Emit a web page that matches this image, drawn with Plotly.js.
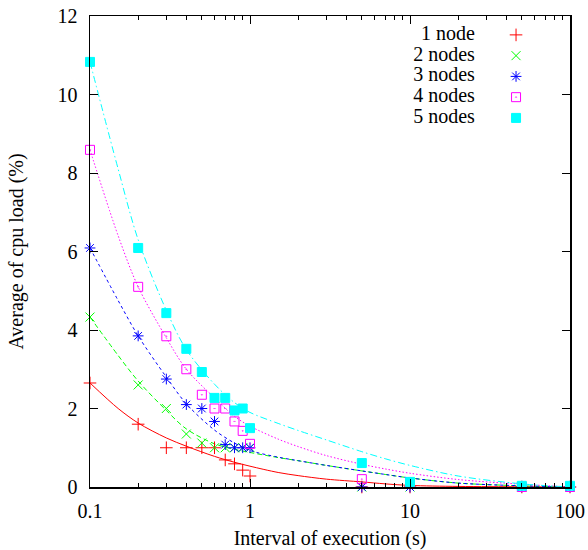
<!DOCTYPE html>
<html>
<head>
<meta charset="utf-8">
<script src="https://cdn.plot.ly/plotly-3.0.1.min.js"></script>
<style>
  html, body { margin: 0; padding: 0; background: #fff; }
  #chart { width: 588px; height: 550px; }
</style>
</head>
<body>
<div id="chart"></div>
<script>
// Measured points (interval of execution in s, average cpu load in %)
const intervals = [0.1, 0.2, 0.3, 0.4, 0.5, 0.6, 0.7, 0.8, 0.9, 1, 5, 10, 50, 100];
const load1 = [2.65, 1.6, 1.0, 1.0, 1.0, 1.0, 0.69, 0.59, 0.43, 0.28, 0, 0, 0, 0];
const load2 = [4.33, 2.6, 2.0, 1.35, 1.12, 1.0, 1.0, 1.0, 1.0, 1.0, 0, 0, 0, 0];
const load3 = [6.09, 3.85, 2.75, 2.1, 2.0, 1.67, 1.08, 1.0, 1.0, 1.0, 0, 0, 0, 0];
const load4 = [8.59, 5.1, 3.84, 3.0, 2.35, 2.0, 2.0, 1.67, 1.43, 1.1, 0.2, 0.1, 0, 0];
const load5 = [10.83, 6.09, 4.43, 3.52, 2.93, 2.27, 2.27, 1.95, 2.0, 1.5, 0.61, 0.13, 0.03, 0.03];

// Fitted curves at these intervals
const curveX = [0.1, 0.15, 0.2, 0.3, 0.4, 0.6, 0.8, 1, 1.5, 2, 3, 5, 7, 10, 20, 50, 100];
const fit1 = [2.65, 2.0, 1.63, 1.25, 1.04, 0.78, 0.63, 0.53, 0.37, 0.29, 0.2, 0.13, 0.08, 0.04, 0.015, 0.005, 0];
const fit2 = [4.33, 3.35, 2.7, 1.95, 1.48, 1.1, 0.96, 0.88, 0.75, 0.67, 0.55, 0.41, 0.32, 0.23, 0.1, 0.03, 0];
const fit3 = [6.09, 4.75, 3.85, 2.8, 2.12, 1.45, 1.12, 0.93, 0.76, 0.67, 0.55, 0.41, 0.32, 0.23, 0.1, 0.03, 0];
const fit4 = [8.59, 6.4, 5.1, 3.8, 3.0, 2.27, 1.8, 1.55, 1.22, 1.03, 0.8, 0.58, 0.46, 0.35, 0.19, 0.07, 0];
const fit5 = [10.83, 8.1, 6.3, 4.5, 3.5, 2.62, 2.15, 1.9, 1.62, 1.44, 1.2, 0.9, 0.72, 0.55, 0.28, 0.08, 0];

const seriesNames = ['1 node', '2 nodes', '3 nodes', '4 nodes', '5 nodes'];
const xTickVals = [0.1, 1, 10, 100];
const xTickText = ['0.1', '1', '10', '100'];
const xMinorVals = [0.2,0.3,0.4,0.5,0.6,0.7,0.8,0.9,2,3,4,5,6,7,8,9,20,30,40,50,60,70,80,90];

const colors = ['#ff0000', '#00ff00', '#0000ff', '#ff00ff', '#00ffff'];
const symbols = ['cross-thin-open', 'x-thin-open', 'asterisk-open', 'square-open-dot', 'square'];
const sizes = [9, 9, 9, 9, 9];
const dashes = ['solid', '5px,3px', '3px,3px', '1.5px,2px', '7px,3px,1.5px,3px'];
const loads = [load1, load2, load3, load4, load5];
const fits = [fit1, fit2, fit3, fit4, fit5];

const FONT = 'Liberation Serif, Times New Roman, serif';
const traces = [];
for (let i = 0; i < 5; i++) {
  traces.push({
    x: curveX, y: fits[i], type: 'scatter', mode: 'lines',
    line: {color: colors[i], width: 1, dash: dashes[i], shape: 'spline', smoothing: 0.9},
    showlegend: false, hoverinfo: 'skip'
  });
}
for (let i = 0; i < 5; i++) {
  traces.push({
    x: intervals, y: loads[i], type: 'scatter', mode: 'markers',
    marker: {color: colors[i], symbol: symbols[i], size: sizes[i],
             line: {color: colors[i], width: 1}},
    showlegend: false, cliponaxis: false
  });
}
// Legend block (gnuplot style: text, then symbol on the right)
const keySymX = [0.5, 0.5, 0.5, 0.5, 0.5];
const keyTextX = [0.355, 0.355, 0.355, 0.355, 0.355];
const keyY = [5, 4, 3, 2, 1];
for (let i = 0; i < 5; i++) {
  traces.push({
    x: [keySymX[i]], y: [keyY[i]], xaxis: 'x2', yaxis: 'y2', type: 'scatter', mode: 'markers',
    marker: {color: colors[i], symbol: symbols[i], size: sizes[i],
             line: {color: colors[i], width: 1}},
    showlegend: false, hoverinfo: 'skip'
  });
}
traces.push({
  x: keyTextX, y: keyY, xaxis: 'x2', yaxis: 'y2', type: 'scatter', mode: 'text',
  text: seriesNames, textposition: 'middle left',
  textfont: {family: FONT, size: 20, color: '#000'},
  showlegend: false, hoverinfo: 'skip'
});

const layout = {
  width: 588, height: 550,
  margin: {l: 90, r: 18, t: 16, b: 63, pad: 0},
  paper_bgcolor: '#fff', plot_bgcolor: '#fff',
  showlegend: false,
  font: {family: FONT, size: 20, color: '#000'},
  xaxis: {
    type: 'log', range: [-1, 2], tickmode: 'array', tickvals: xTickVals, ticktext: xTickText,
    ticks: 'inside', ticklen: 8, tickwidth: 1, tickcolor: '#000',
    minor: {tickmode: 'array', tickvals: xMinorVals, ticks: 'inside', ticklen: 4, tickwidth: 1, tickcolor: '#000', showgrid: false},
    showline: true, linecolor: '#000', linewidth: 1.5, mirror: 'ticks',
    showgrid: false, zeroline: false, ticklabelstandoff: 5,
    tickfont: {family: FONT, size: 20},
    title: {text: 'Interval of execution (s)', font: {family: FONT, size: 20}, standoff: 26}
  },
  yaxis: {
    range: [0, 12], dtick: 2, tick0: 0,
    ticks: 'inside', ticklen: 8, tickwidth: 1, tickcolor: '#000',
    showline: true, linecolor: '#000', linewidth: 1.5, mirror: 'ticks',
    showgrid: false, zeroline: false, ticklabelstandoff: 7,
    tickfont: {family: FONT, size: 20},
    title: {text: 'Average of cpu load (%)', font: {family: FONT, size: 20}, standoff: 28}
  },
  xaxis2: {overlaying: 'x', range: [-1, 0.69], visible: false, fixedrange: true},
  yaxis2: {overlaying: 'y', range: [-16.78, 5.91], visible: false, fixedrange: true}
};
Plotly.newPlot('chart', traces, layout, {staticPlot: true, displayModeBar: false});
</script>
</body>
</html>
